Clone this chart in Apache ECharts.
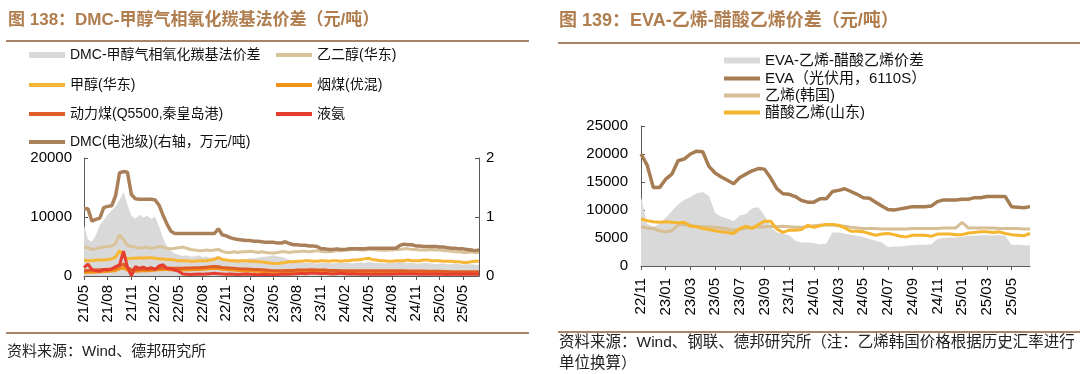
<!DOCTYPE html>
<html><head><meta charset="utf-8">
<script src="https://cdn.jsdelivr.net/npm/echarts@6/dist/echarts.min.js"></script>
<style>html,body{margin:0;padding:0;background:#fff}#c{width:1080px;height:374px}</style>
</head><body><div id="c"></div>
<script>
// ---------- Left chart data (half-month points, 2021-05 to 2025-07) ----------
const leftTickLabels = ['21/05','21/08','21/11','22/02','22/05','22/08','22/11','23/02','23/05','23/08','23/11','24/02','24/05','24/08','24/11','25/02','25/05'];
const dmcSpread = [8600,6200,5800,6900,8600,9500,10400,11100,11800,12900,14200,12100,10200,9700,10400,9900,10200,9700,10100,8400,6400,5000,4300,3800,3600,3400,3500,3300,3300,3500,3200,3300,3100,3200,3400,3000,2800,2700,2800,2900,2800,2900,3000,3000,3100,3200,3300,3400,3500,3300,3200,3000,2700,2500,2400,2300,2200,2300,2200,2100,2200,2300,2200,2100,2200,2300,2200,2200,2100,2200,2300,2200,2400,2300,2200,2200,2100,2200,2200,2300,2400,2300,2200,2200,2100,2100,2200,2200,2100,2000,2100,2100,2000,2000,2100,2000,1900,2000,2000,1900,1900];
const megEast = [4900,4800,4500,4600,4800,4900,5000,5100,5500,7000,6100,5200,5000,4900,4700,4800,4900,4700,4800,5000,4900,4700,4600,4700,4800,4900,4700,4500,4400,4300,4300,4400,4300,4400,4500,4200,4000,4000,4100,4000,4100,4100,4200,4100,4000,4100,4000,3900,3900,4000,4100,4100,4000,4100,4100,4200,4200,4100,4200,4300,4200,4100,4100,4200,4300,4300,4400,4400,4500,4500,4400,4400,4500,4500,4400,4400,4300,4400,4400,4500,4500,4600,4600,4500,4500,4400,4400,4400,4500,4400,4400,4300,4300,4200,4100,4100,4000,4000,4100,4000,4000];
const methanolEast = [2700,2600,2600,2700,2700,2700,2800,2900,3200,4300,3400,2900,3000,3000,3100,3000,3100,3100,3000,2900,2900,2800,2800,2700,2600,2600,2600,2500,2500,2600,2600,2600,2700,2800,3100,2800,2700,2600,2600,2500,2600,2600,2500,2500,2400,2400,2300,2200,2100,2100,2200,2300,2400,2400,2500,2500,2600,2600,2500,2500,2600,2600,2500,2600,2600,2500,2600,2600,2700,2700,2800,2900,3000,2800,2700,2600,2600,2500,2500,2600,2600,2600,2700,2600,2600,2600,2700,2700,2600,2600,2600,2500,2500,2500,2400,2400,2300,2300,2400,2500,2500];
const bituminousCoal = [600,620,650,680,700,750,800,850,950,1200,1400,1000,850,800,850,900,900,950,1000,1050,1100,1100,1050,1000,1000,1000,1050,1050,1100,1100,1150,1200,1250,1300,1250,1150,1100,1050,1000,950,900,850,850,800,800,750,700,650,600,600,600,650,650,650,700,700,700,750,750,700,700,700,650,650,650,600,600,600,600,600,600,600,600,600,600,600,600,600,600,600,600,600,550,550,550,550,550,500,500,500,500,450,450,450,400,400,400,450,450,450,450];
const thermalCoal = [900,950,1000,1000,1050,1100,1150,1200,1350,1700,2000,1400,1100,1050,1100,1150,1150,1200,1250,1300,1350,1350,1300,1300,1300,1300,1350,1350,1400,1400,1450,1500,1550,1600,1550,1450,1400,1350,1300,1250,1200,1200,1150,1100,1100,1050,1000,950,900,900,900,950,950,950,1000,1000,1000,1050,1050,1000,1000,1000,950,950,950,900,900,900,900,900,900,900,900,900,900,900,900,900,900,900,900,900,850,850,850,850,850,800,800,800,800,750,750,700,700,700,700,700,700,700,700];
const liquidAmmonia = [1400,2000,1100,900,800,1100,1000,1200,1600,1900,4200,1500,0,1600,1300,1500,1200,1400,1100,1700,1900,1300,1200,1000,800,350,300,250,300,350,300,350,400,450,400,350,300,350,300,250,300,350,300,250,200,250,300,250,200,250,300,350,300,350,400,450,400,450,500,450,400,450,400,350,400,450,400,350,400,350,300,350,300,300,350,300,300,350,300,350,400,350,350,400,350,300,350,300,300,350,300,300,250,300,350,300,300,350,300,300,300];
const dmcBattery = [1.14,1.14,0.93,0.96,0.98,1.16,1.18,1.19,1.36,1.75,1.77,1.76,1.38,1.31,1.30,1.30,1.30,1.30,1.29,1.20,1.03,0.88,0.76,0.72,0.72,0.72,0.72,0.72,0.72,0.72,0.72,0.72,0.72,0.72,0.80,0.70,0.68,0.65,0.63,0.62,0.61,0.60,0.60,0.59,0.59,0.58,0.57,0.57,0.57,0.56,0.56,0.58,0.55,0.53,0.53,0.52,0.52,0.51,0.51,0.50,0.46,0.46,0.45,0.45,0.46,0.45,0.45,0.46,0.46,0.46,0.46,0.46,0.47,0.47,0.47,0.47,0.47,0.47,0.47,0.47,0.52,0.54,0.53,0.53,0.51,0.51,0.50,0.50,0.50,0.50,0.49,0.49,0.48,0.47,0.47,0.46,0.46,0.45,0.44,0.43,0.44];

// ---------- Right chart data (half-month points, 2022-11 to 2025-06) ----------
const rightTickLabels = ['22/11','23/01','23/03','23/05','23/07','23/09','23/11','24/01','24/03','24/05','24/07','24/09','24/11','25/01','25/03','25/05'];
const evaSpread = [12300,7500,7000,7500,8600,9800,11000,11800,12300,13000,13200,12500,9500,8800,8500,8000,9000,9300,10300,10500,9000,7000,6000,5800,5500,4500,4200,4200,4100,3900,4000,6000,6000,5800,5600,5400,5200,4800,4500,4200,3400,3500,3500,3600,3700,3800,3800,3900,4800,5000,5100,5100,5200,5400,5400,5500,5500,5500,5500,5400,3800,3800,3700,3700];
const evaPV = [20000,18000,14000,14000,15500,16400,18800,19100,20000,20500,20400,17800,16600,15900,15300,14700,15800,16400,17000,17400,17300,15700,13800,12900,12800,12400,11700,11400,11400,12000,12000,13300,13500,13800,13300,12800,12200,12100,11400,10700,10100,10000,10200,10400,10600,10600,10600,10700,11500,11800,11800,11800,11900,11900,12200,12200,12400,12400,12400,12400,10600,10500,10400,10600];
const ethyleneKR = [7000,6800,6700,6300,6100,6300,7300,7400,7300,7100,7000,7000,6900,6800,6600,6400,6500,6800,6900,6900,7000,7100,7000,7100,7000,6900,6900,7000,7200,7300,7300,7300,7200,7100,6900,6800,6700,6700,6700,6600,6600,6600,6600,6600,6700,6700,6700,6700,6700,6800,6800,6800,7800,6800,6800,6800,6800,6800,6700,6700,6700,6700,6600,6600];
const vamShandong = [8400,8100,7900,7800,7900,7800,7700,7800,7100,7000,6700,6500,6300,6100,6000,5800,6700,7100,6700,7400,8000,8000,6600,6000,6400,6400,6500,7300,6900,7200,7400,7400,7300,6800,6200,6200,6100,5800,5500,5700,5800,5600,5300,5200,5500,5500,5500,5300,5700,5700,5700,5600,5600,5900,6000,6100,6100,6000,6100,5800,5600,5500,5400,5800];

// ---------- categories ----------
function halfMonths(y, m, count) {
  const out = [];
  for (let i = 0; i < count; i++) {
    const mm = m + Math.floor(i / 2);
    const yy = y + Math.floor((mm - 1) / 12);
    const mo = ((mm - 1) % 12) + 1;
    out.push(yy + '-' + String(mo).padStart(2, '0') + (i % 2 === 0 ? '-01' : '-16'));
  }
  return out;
}
const leftCats = halfMonths(2021, 5, dmcSpread.length);
const rightCats = halfMonths(2022, 11, evaSpread.length);

const FONT = "Arial, 'Liberation Sans', 'Noto Sans CJK SC', sans-serif";
const AX = '#595959';
const RULE = '#A8856A';
const TITLE = '#B07D4E';

const chart = echarts.init(document.getElementById('c'), null, {renderer: 'canvas'});

function xAx(grid, cats, step, ticks, margin) {
  return {
    gridIndex: grid, type: 'category', data: cats, boundaryGap: false,
    axisLine: {show: true, onZero: false, lineStyle: {color: AX, width: 1}},
    axisTick: {show: true, interval: step - 1, length: 4, lineStyle: {color: AX}},
    axisLabel: {interval: step - 1, rotate: 90, fontSize: 15, color: '#000', fontFamily: FONT, margin: margin,
      formatter: (v, i) => (i % step === 0 && ticks[i / step]) ? ticks[i / step] : ''},
    splitLine: {show: false}
  };
}
function yAx(grid, min, max, interval, pos, margin) {
  return {
    gridIndex: grid, type: 'value', min: min, max: max, interval: interval, position: pos,
    axisLine: {show: true, lineStyle: {color: AX, width: 1}},
    axisTick: {show: true, inside: true, length: 4, lineStyle: {color: AX}},
    axisLabel: {fontSize: 15, color: '#000', fontFamily: FONT, margin: margin, formatter: v => String(v)},
    splitLine: {show: false}
  };
}
function lineS(name, data, color, width, xi, yi) {
  return {name: name, type: 'line', data: data, xAxisIndex: xi, yAxisIndex: yi, symbol: 'none', showSymbol: false,
    color: color, lineStyle: {color: color, width: width}, emphasis: {disabled: true}};
}
function areaS(name, data, xi, yi) {
  return {name: name, type: 'line', data: data, xAxisIndex: xi, yAxisIndex: yi, symbol: 'none', showSymbol: false,
    color: '#D9D9D9', lineStyle: {width: 0}, areaStyle: {color: '#D9D9D9', opacity: 1}, emphasis: {disabled: true}};
}
function leg(name, left, cy, h, fs) {
  return {data: [name], left: left, top: cy - Math.round(fs / 2) - 1, icon: 'rect', itemWidth: 36, itemHeight: h,
    selectedMode: false, padding: 0, textStyle: {fontSize: fs, color: '#111', fontFamily: FONT}};
}

const N = {
  a: 'DMC-甲醇气相氧化羰基法价差', b: '乙二醇(华东)', c: '甲醇(华东)', d: '烟煤(优混)',
  e: '动力煤(Q5500,秦皇岛港)', f: '液氨', g: 'DMC(电池级)(右轴，万元/吨)',
  h: 'EVA-乙烯-醋酸乙烯价差', i: 'EVA（光伏用，6110S）', j: '乙烯(韩国)', k: '醋酸乙烯(山东)'
};

const option = {
  animation: false,
  backgroundColor: '#fff',
  grid: [
    {left: 84, right: 1080 - 479, top: 158, bottom: 374 - 276, containLabel: false, outerBoundsMode: 'none'},
    {left: 641, right: 1080 - 1030, top: 126, bottom: 374 - 266, containLabel: false, outerBoundsMode: 'none'}
  ],
  xAxis: [xAx(0, leftCats, 6, leftTickLabels, 9), xAx(1, rightCats, 4, rightTickLabels, 12)],
  yAxis: [
    yAx(0, 0, 20000, 10000, 'left', 12),
    yAx(0, 0, 2, 1, 'right', 7),
    yAx(1, 0, 25000, 5000, 'left', 13)
  ],
  legend: [
    leg(N.a, 29, 56, 6, 14), leg(N.b, 276, 56, 4, 14),
    leg(N.c, 29, 86, 4, 14), leg(N.d, 276, 86, 4, 14),
    leg(N.e, 29, 115, 4, 14), leg(N.f, 276, 115, 4, 14),
    leg(N.g, 29, 143, 4, 14),
    leg(N.h, 724, 62, 6, 15), leg(N.i, 724, 80, 4, 15),
    leg(N.j, 724, 97, 4, 15), leg(N.k, 724, 114, 4, 15)
  ],
  series: [
    areaS(N.a, dmcSpread, 0, 0),
    lineS(N.b, megEast, '#D9C39B', 3, 0, 0),
    lineS(N.c, methanolEast, '#F6B737', 3, 0, 0),
    lineS(N.d, bituminousCoal, '#F39419', 3, 0, 0),
    lineS(N.e, thermalCoal, '#DF5E26', 3, 0, 0),
    lineS(N.f, liquidAmmonia, '#E63E2E', 3, 0, 0),
    lineS(N.g, dmcBattery, '#A9805A', 3.5, 0, 1),
    areaS(N.h, evaSpread, 1, 2),
    lineS(N.i, evaPV, '#A67C52', 3.5, 1, 2),
    lineS(N.j, ethyleneKR, '#D6BE96', 3, 1, 2),
    lineS(N.k, vamShandong, '#F5B52E', 3, 1, 2)
  ],
  graphic: [
    {type: 'text', x: 8, y: 20, style: {text: '图 138：DMC-甲醇气相氧化羰基法价差（元/吨）', font: "bold 17px " + FONT, fill: TITLE, verticalAlign: 'middle'}},
    {type: 'line', shape: {x1: 6, y1: 41, x2: 529, y2: 41}, style: {stroke: RULE, lineWidth: 2}},
    {type: 'line', shape: {x1: 6, y1: 333, x2: 529, y2: 333}, style: {stroke: RULE, lineWidth: 2}},
    {type: 'text', x: 7, y: 352, style: {text: '资料来源：Wind、德邦研究所', font: "15px " + FONT, fill: '#222', verticalAlign: 'middle'}},
    {type: 'text', x: 559, y: 21, style: {text: '图 139：EVA-乙烯-醋酸乙烯价差（元/吨）', font: "bold 18px " + FONT, fill: TITLE, verticalAlign: 'middle'}},
    {type: 'line', shape: {x1: 558, y1: 43, x2: 1080, y2: 43}, style: {stroke: RULE, lineWidth: 2}},
    {type: 'line', shape: {x1: 558, y1: 332, x2: 1080, y2: 332}, style: {stroke: RULE, lineWidth: 2}},
    {type: 'text', x: 559, y: 343, style: {text: '资料来源：Wind、钢联、德邦研究所（注：乙烯韩国价格根据历史汇率进行', font: "15.5px " + FONT, fill: '#222', verticalAlign: 'middle'}},
    {type: 'text', x: 559, y: 364, style: {text: '单位换算）', font: "15.5px " + FONT, fill: '#222', verticalAlign: 'middle'}}
  ]
};
chart.setOption(option);
</script></body></html>
